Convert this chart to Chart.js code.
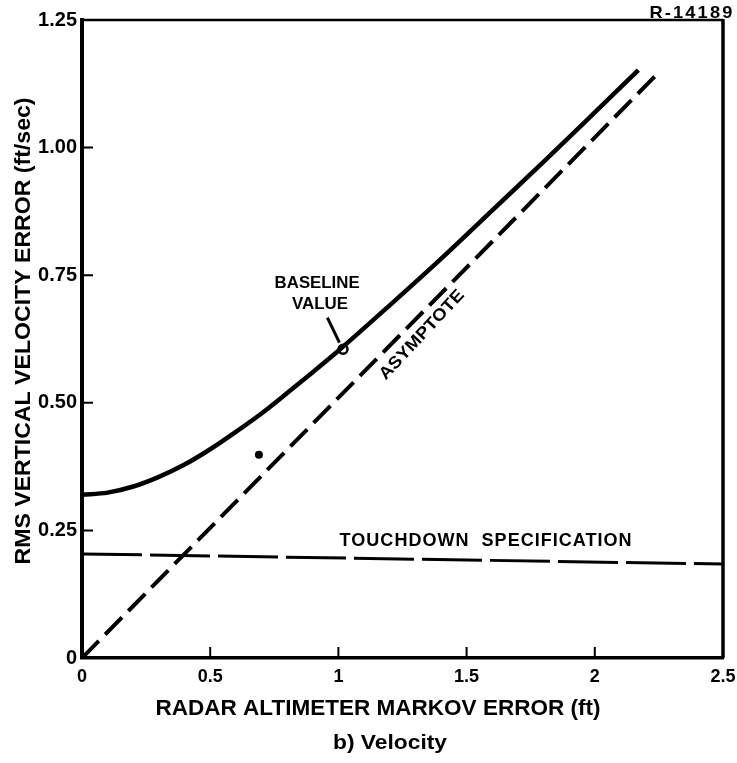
<!DOCTYPE html>
<html>
<head>
<meta charset="utf-8">
<script src="https://cdn.jsdelivr.net/npm/chart.js@4/dist/chart.umd.min.js"></script>
<style>
  html, body { margin: 0; padding: 0; background: #fff; }
  canvas { display: block; }
</style>
</head>
<body>
<canvas id="velocityChart" width="737" height="763"></canvas>
<script>
// Readings taken off the scanned figure
const curveX = [0, 0.1, 0.2, 0.3, 0.4, 0.5, 0.6, 0.7, 0.8, 0.9, 1.0, 1.2, 1.4, 1.6, 1.8, 2.0, 2.17];
const curveY = [0.32, 0.324, 0.336, 0.355, 0.379, 0.409, 0.443, 0.479, 0.519, 0.56, 0.602, 0.691, 0.782, 0.877, 0.972, 1.069, 1.152];

const asymptoteX = [0, 2.255];
const asymptoteY = [0, 1.15];

const specX = [0, 2.5];
const specY = [0.204, 0.184];

const baselineX = [1.018];
const baselineY = [0.605];

const speckX = [0.69];
const speckY = [0.398];

const xTickLabels = ['0', '0.5', '1', '1.5', '2', '2.5'];
const yTickLabels = ['0', '0.25', '0.50', '0.75', '1.00', '1.25'];

const toPoints = (xs, ys) => xs.map((x, i) => ({ x: x, y: ys[i] }));

const FONT = '"Liberation Sans", Arial, sans-serif';

/**
 * Draw text centred on (cx, cy), squeezed or stretched to a given width
 */
function fitText(ctx, text, cx, cy, width, font, angle) {
    ctx.save();
    ctx.translate(cx, cy);
    ctx.rotate(angle || 0);
    ctx.font = font;
    const w = ctx.measureText(text).width;
    ctx.scale(width / w, 1);
    ctx.fillText(text, 0, 0);
    ctx.restore();
}

/**
 * Frame, inward ticks and all the hand-lettered labels
 */
const annotations = {
    id: 'annotations',
    afterDraw(chart) {
        const { ctx, chartArea: a, scales: { x, y } } = chart;
        ctx.save();
        ctx.strokeStyle = '#000';
        ctx.fillStyle = '#000';

        // top and right edges of the frame
        ctx.lineWidth = 2.5;
        ctx.beginPath();
        ctx.moveTo(a.left, a.top);
        ctx.lineTo(a.right, a.top);
        ctx.stroke();
        ctx.lineWidth = 3.5;
        ctx.beginPath();
        ctx.moveTo(a.right, a.top - 1);
        ctx.lineTo(a.right, a.bottom);
        ctx.stroke();

        // ticks point into the plot
        ctx.lineWidth = 2;
        ctx.beginPath();
        [0.5, 1, 1.5, 2].forEach(v => {
            const px = x.getPixelForValue(v);
            ctx.moveTo(px, a.bottom);
            ctx.lineTo(px, a.bottom - 11);
        });
        [0.25, 0.5, 0.75, 1].forEach(v => {
            const py = y.getPixelForValue(v);
            ctx.moveTo(a.left, py);
            ctx.lineTo(a.left + 11, py);
        });
        ctx.stroke();

        // leader line to the baseline point
        ctx.lineWidth = 3;
        ctx.beginPath();
        ctx.moveTo(x.getPixelForValue(0.957), y.getPixelForValue(0.667));
        ctx.lineTo(x.getPixelForValue(1.004), y.getPixelForValue(0.618));
        ctx.stroke();

        ctx.textAlign = 'center';
        ctx.textBaseline = 'middle';

        fitText(ctx, 'BASELINE', x.getPixelForValue(0.917), y.getPixelForValue(0.735), 85, 'bold 17px ' + FONT);
        fitText(ctx, 'VALUE', x.getPixelForValue(0.928), y.getPixelForValue(0.692), 56, 'bold 17px ' + FONT);

        ctx.letterSpacing = '1px';
        fitText(ctx, 'TOUCHDOWN  SPECIFICATION', x.getPixelForValue(1.576), y.getPixelForValue(0.229), 293, 'bold 18px ' + FONT);
        ctx.letterSpacing = '0px';

        // label running along the asymptote
        fitText(ctx, 'ASYMPTOTE', x.getPixelForValue(1.326), y.getPixelForValue(0.633), 116, 'bold 17px ' + FONT, -47 * Math.PI / 180);

        // report number
        ctx.letterSpacing = '2px';
        fitText(ctx, 'R-14189', 692, 13, 85, 'bold 17px ' + FONT);
        ctx.letterSpacing = '0px';

        // axis titles and caption
        fitText(ctx, 'RADAR ALTIMETER MARKOV ERROR (ft)', 378, 709, 445, 'bold 22px ' + FONT);
        fitText(ctx, 'b) Velocity', 390, 743, 114, 'bold 21px ' + FONT);
        fitText(ctx, 'RMS VERTICAL VELOCITY ERROR (ft/sec)', 24, 331, 467, 'bold 22px ' + FONT, -Math.PI / 2);

        ctx.restore();
    }
};

const ctx = document.getElementById('velocityChart').getContext('2d');

new Chart(ctx, {
    type: 'scatter',
    data: {
        datasets: [
            {
                label: 'RMS error',
                data: toPoints(curveX, curveY),
                showLine: true,
                borderColor: '#000',
                borderWidth: 4.5,
                cubicInterpolationMode: 'monotone',
                pointRadius: 0
            },
            {
                label: 'Asymptote',
                data: toPoints(asymptoteX, asymptoteY),
                showLine: true,
                borderColor: '#000',
                borderWidth: 4,
                borderDash: [24, 9],
                pointRadius: 0
            },
            {
                label: 'Touchdown specification',
                data: toPoints(specX, specY),
                showLine: true,
                borderColor: '#000',
                borderWidth: 3,
                borderDash: [60, 8],
                pointRadius: 0
            },
            {
                label: 'Baseline value',
                data: toPoints(baselineX, baselineY),
                pointRadius: 4.5,
                pointBackgroundColor: '#fff',
                pointBorderColor: '#000',
                pointBorderWidth: 2.5
            },
            {
                label: 'Speck',
                data: toPoints(speckX, speckY),
                pointRadius: 4,
                pointBackgroundColor: '#000',
                pointBorderColor: '#000',
                pointBorderWidth: 0
            }
        ]
    },
    options: {
        responsive: false,
        animation: false,
        layout: {
            padding: { left: 0, top: 20, right: 14, bottom: 0 }
        },
        plugins: {
            legend: { display: false },
            tooltip: { enabled: false }
        },
        scales: {
            x: {
                type: 'linear',
                min: 0,
                max: 2.5,
                afterFit: (scale) => {
                    scale.height = 105;
                    scale.paddingRight = 0;
                    scale.paddingLeft = 0;
                },
                grid: { display: false, drawTicks: false },
                border: { display: true, color: '#000', width: 3.5 },
                ticks: {
                    stepSize: 0.5,
                    padding: 8,
                    color: '#000',
                    font: { family: FONT, size: 18, weight: 'bold' },
                    callback: (value) => xTickLabels[Math.round(value / 0.5)]
                }
            },
            y: {
                type: 'linear',
                min: 0,
                max: 1.25,
                afterFit: (scale) => {
                    scale.width = 82;
                    scale.paddingTop = 0;
                    scale.paddingBottom = 0;
                },
                grid: { display: false, drawTicks: false },
                border: { display: true, color: '#000', width: 4 },
                ticks: {
                    stepSize: 0.25,
                    padding: 5,
                    color: '#000',
                    font: { family: FONT, size: 20, weight: 'bold' },
                    callback: (value) => yTickLabels[Math.round(value / 0.25)]
                }
            }
        }
    },
    plugins: [annotations]
});
</script>
</body>
</html>
